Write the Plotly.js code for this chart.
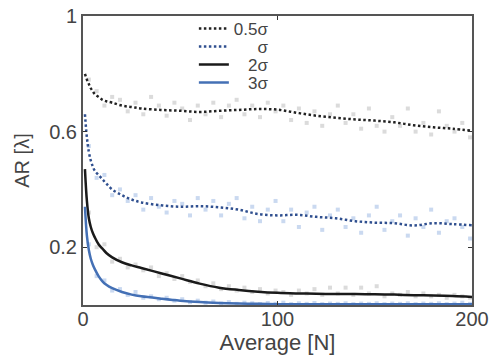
<!DOCTYPE html>
<html><head><meta charset="utf-8">
<script src="https://cdn.plot.ly/plotly-3.0.1.min.js"></script>
<style>html,body{margin:0;padding:0;background:#fff}#chart{width:493px;height:358px}</style>
</head><body><div id="chart"></div>
<script>
// Smoothed curves
const lineX = [1,2,3,4,5,6,8,10,12,15,20,25,30,40,50,60,70,80,90,100,110,120,130,140,150,160,170,180,190,200];
const half = [0.80,0.78,0.765,0.75,0.74,0.73,0.72,0.71,0.705,0.70,0.69,0.685,0.68,0.675,0.672,0.668,0.672,0.675,0.678,0.676,0.665,0.655,0.648,0.642,0.638,0.632,0.622,0.615,0.61,0.603];
const one = [0.66,0.58,0.53,0.50,0.48,0.465,0.45,0.435,0.42,0.40,0.38,0.365,0.355,0.345,0.34,0.342,0.338,0.33,0.315,0.31,0.312,0.305,0.30,0.29,0.285,0.283,0.275,0.283,0.28,0.276];
const two = [0.47,0.36,0.30,0.27,0.25,0.235,0.21,0.195,0.18,0.165,0.148,0.137,0.128,0.11,0.092,0.074,0.06,0.052,0.046,0.042,0.04,0.039,0.038,0.038,0.037,0.036,0.034,0.033,0.031,0.028];
const three = [0.34,0.24,0.19,0.16,0.14,0.125,0.10,0.082,0.07,0.058,0.045,0.036,0.03,0.022,0.015,0.01,0.007,0.005,0.004,0.003,0.003,0.003,0.003,0.003,0.003,0.003,0.003,0.003,0.003,0.003];

// Raw scattered measurements
const scatX = [3,7,11,15,19,23,27,31,35,39,43,47,51,55,59,63,67,71,75,79,83,87,91,95,99,103,107,111,115,119,123,127,131,135,139,143,147,151,155,159,163,167,171,175,179,183,187,191,195,199];
const halfPts = [0.78,0.74,0.69,0.72,0.71,0.67,0.70,0.66,0.72,0.69,0.655,0.70,0.68,0.64,0.69,0.66,0.70,0.65,0.69,0.71,0.66,0.69,0.65,0.70,0.67,0.69,0.64,0.68,0.63,0.67,0.62,0.66,0.69,0.63,0.66,0.61,0.68,0.62,0.60,0.65,0.62,0.68,0.60,0.63,0.59,0.67,0.62,0.60,0.63,0.58];
const onePts = [0.55,0.44,0.45,0.38,0.40,0.36,0.38,0.33,0.37,0.34,0.32,0.36,0.35,0.31,0.37,0.33,0.36,0.31,0.35,0.37,0.30,0.34,0.29,0.33,0.36,0.29,0.33,0.27,0.32,0.34,0.26,0.31,0.33,0.27,0.30,0.25,0.31,0.34,0.26,0.29,0.31,0.24,0.30,0.27,0.33,0.25,0.29,0.30,0.27,0.23];
const twoPts = [0.32,0.20,0.21,0.15,0.16,0.13,0.14,0.12,0.13,0.10,0.11,0.09,0.10,0.08,0.085,0.065,0.075,0.055,0.065,0.05,0.06,0.045,0.055,0.04,0.05,0.045,0.035,0.05,0.04,0.055,0.035,0.06,0.04,0.06,0.035,0.06,0.04,0.065,0.03,0.04,0.035,0.045,0.03,0.04,0.03,0.035,0.025,0.035,0.03,0.025];
const threePts = [0.21,0.10,0.085,0.05,0.055,0.035,0.045,0.025,0.03,0.02,0.025,0.015,0.02,0.01,0.015,0.008,0.012,0.005,0.01,0.004,0.008,0.006,0.003,0.007,0.004,0.008,0.003,0.006,0.004,0.007,0.003,0.005,0.004,0.006,0.003,0.005,0.004,0.006,0.003,0.005,0.004,0.006,0.003,0.005,0.004,0.006,0.003,0.005,0.008,0.004];

const names = ['0.5σ','\u00a0\u00a0\u00a0\u00a0\u00a0σ','\u00a0\u00a0\u00a02σ','\u00a0\u00a0\u00a03σ'];
const xTicks = [0,100,200];
const yTicks = [0.2,0.6,1];
const yTickText = ['0.2','0.6','1'];

const grayPt = 'rgba(175,175,175,0.45)';
const bluePt = 'rgba(150,180,225,0.5)';
function pts(y, c){return {x:scatX,y:y,mode:'markers',type:'scatter',showlegend:false,hoverinfo:'skip',marker:{size:4,color:c,symbol:'square'}};}

const data = [
  pts(halfPts, grayPt), pts(onePts, bluePt), pts(twoPts, grayPt), pts(threePts, bluePt),
  {x:lineX,y:half,mode:'lines',name:names[0],legend:'legend',line:{color:'#222',width:2.5,dash:'2.5px,2.5px',shape:'spline'}},
  {x:lineX,y:one,mode:'lines',name:names[1],legend:'legend2',line:{color:'#2f4f8f',width:2.5,dash:'2.5px,2.5px',shape:'spline'}},
  {x:lineX,y:two,mode:'lines',name:names[2],legend:'legend3',line:{color:'#1a1a1a',width:2.5,shape:'spline'}},
  {x:lineX,y:three,mode:'lines',name:names[3],legend:'legend4',line:{color:'#4470b5',width:2.5,shape:'spline'}}
];

function lg(y){return {x:0.285,y:y,xanchor:'left',yanchor:'middle',bgcolor:'rgba(0,0,0,0)',font:{size:17,color:'#444'},itemwidth:30};}

const layout = {
  width:493, height:358,
  margin:{l:83,r:21,t:15,b:53},
  paper_bgcolor:'#fff', plot_bgcolor:'#fff',
  font:{family:'Liberation Sans, Arial, sans-serif', color:'#444'},
  showlegend:true,
  legend:lg(0.952), legend2:lg(0.89), legend3:lg(0.828), legend4:lg(0.766),
  xaxis:{range:[0,200],tickvals:xTicks,ticks:'inside',ticklen:4,tickcolor:'#333',showgrid:false,zeroline:false,
    showline:true,linecolor:'#555',linewidth:2,mirror:'ticks',tickfont:{size:20,color:'#444'},ticklabelstandoff:-5,
    title:{text:'Average [N]',font:{size:22,color:'#444'},standoff:0}},
  yaxis:{range:[0,1],tickvals:yTicks,ticktext:yTickText,ticks:'inside',ticklen:4,tickcolor:'#333',showgrid:false,zeroline:false,
    showline:true,linecolor:'#555',linewidth:2,mirror:'ticks',tickfont:{size:20,color:'#444'},
    title:{text:'AR [λ]',font:{size:20,color:'#444'},standoff:14}}
};
Plotly.newPlot('chart', data, layout, {displayModeBar:false, staticPlot:true});
</script></body></html>
